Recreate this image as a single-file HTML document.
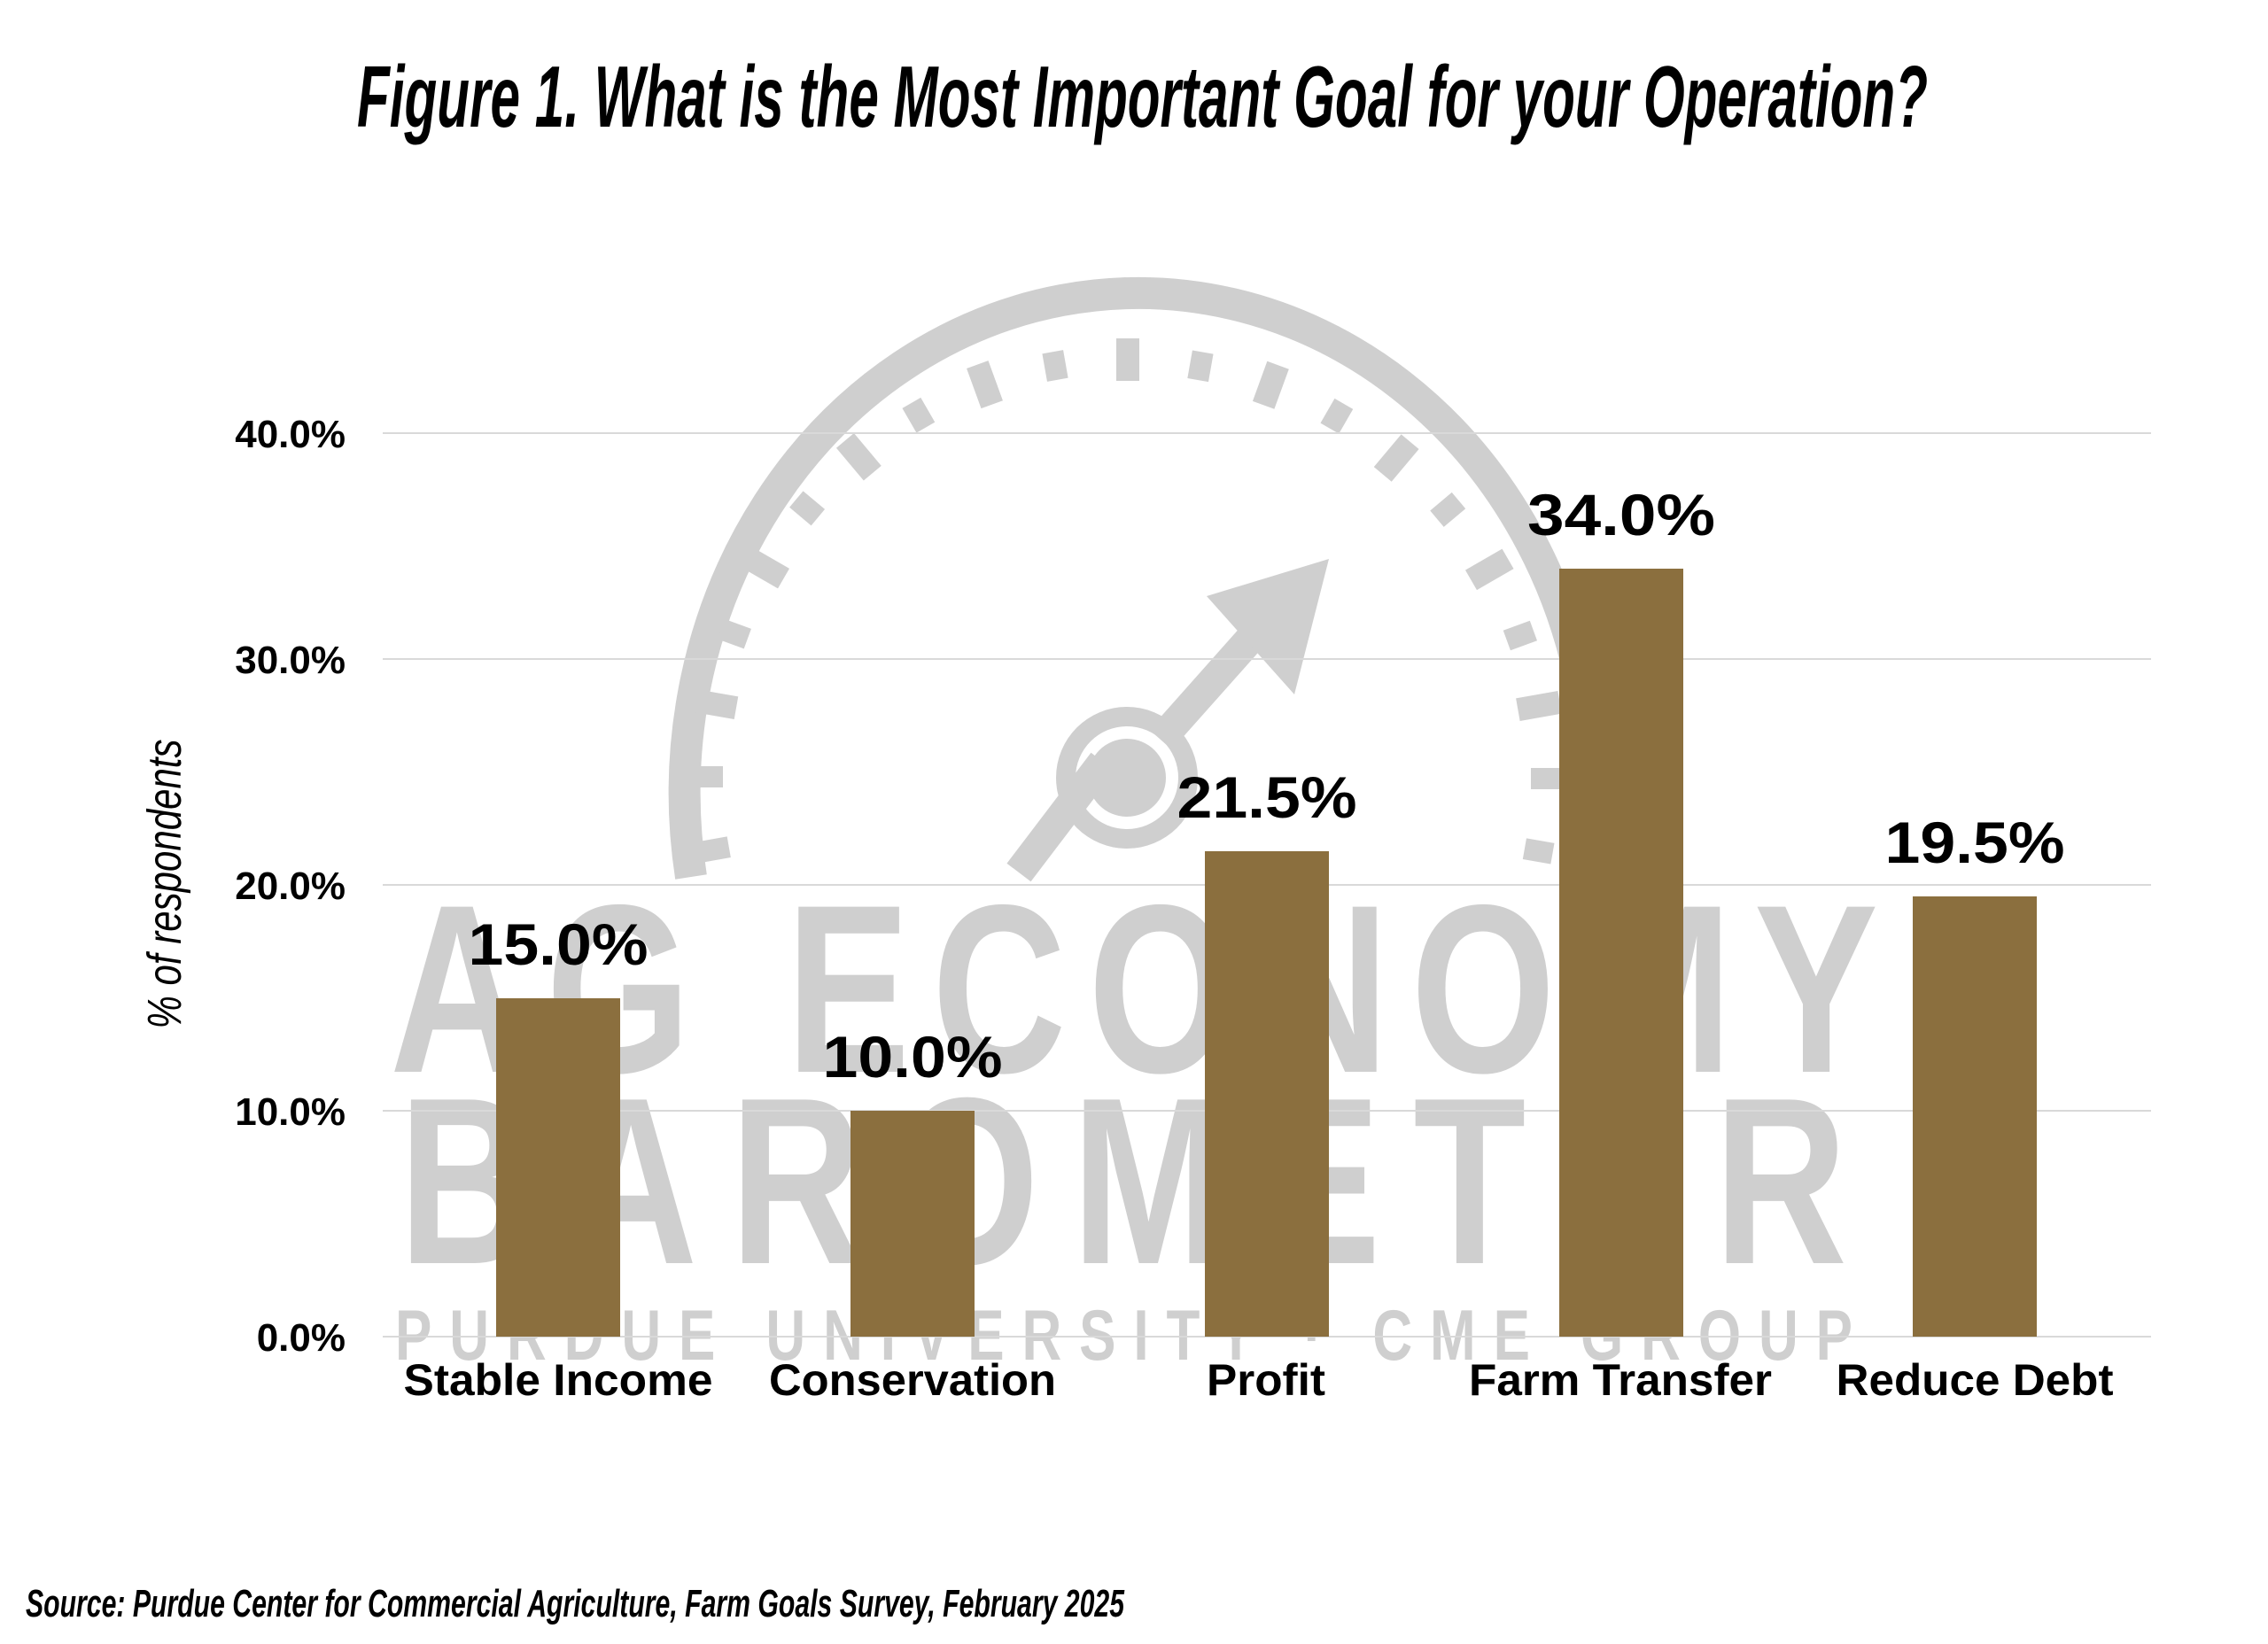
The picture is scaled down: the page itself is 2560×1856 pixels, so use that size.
<!DOCTYPE html>
<html><head><meta charset="utf-8"><style>
html,body{margin:0;padding:0;background:#fff;}
svg{display:block;}
</style></head><body>
<svg width="2560" height="1856" viewBox="0 0 2560 1856" xmlns="http://www.w3.org/2000/svg">
<rect width="2560" height="1856" fill="#fff"/>
<!-- watermark -->
<g fill="#cfcfcf" stroke="none">
  <path d="M 780 990 A 495 545 0 1 1 1790 800" fill="none" stroke="#cfcfcf" stroke-width="36"/>
  <circle cx="1272" cy="878" r="80"/>
  <circle cx="1272" cy="878" r="58" fill="#fff"/>
  <circle cx="1272" cy="878" r="44"/>
  <line x1="1150" y1="985" x2="1245" y2="860" stroke="#cfcfcf" stroke-width="34"/>
  <line x1="1310" y1="835" x2="1430" y2="700" stroke="#cfcfcf" stroke-width="34"/>
  <polygon points="1500,631 1362,673 1461,784"/>
  <g transform="translate(0 1210) scale(1 1.29)">
    <text x="440" y="0" font-family="Liberation Sans, sans-serif" font-weight="bold" font-size="210" textLength="1680" lengthAdjust="spacing">AG ECONOMY</text>
  </g>
  <g transform="translate(0 1426) scale(1 1.29)">
    <text x="450" y="0" font-family="Liberation Sans, sans-serif" font-weight="bold" font-size="208" textLength="1635" lengthAdjust="spacing">BAROMETER</text>
  </g>
  <g transform="translate(0 1535) scale(1 1.3)">
    <text x="446" y="0" font-family="Liberation Sans Narrow, Liberation Sans, sans-serif" font-weight="bold" font-size="62" textLength="1645" lengthAdjust="spacing">PURDUE UNIVERSITY · CME GROUP</text>
  </g>
</g>
<g fill="#cfcfcf">
<rect x="1260" y="382" width="26" height="48"/>
<rect x="1261" y="390" width="24" height="32" transform="rotate(-10 1272 878)"/>
<rect x="1260" y="382" width="26" height="48" transform="rotate(-20 1272 878)"/>
<rect x="1261" y="390" width="24" height="32" transform="rotate(-30 1272 878)"/>
<rect x="1260" y="382" width="26" height="48" transform="rotate(-40 1272 878)"/>
<rect x="1261" y="390" width="24" height="32" transform="rotate(-50 1272 878)"/>
<rect x="1260" y="382" width="26" height="48" transform="rotate(-60 1272 878)"/>
<rect x="1261" y="390" width="24" height="32" transform="rotate(-70 1272 878)"/>
<rect x="1260" y="382" width="26" height="48" transform="rotate(-80 1272 878)"/>
<rect x="1261" y="390" width="24" height="32" transform="rotate(-90 1272 878)"/>
<rect x="1261" y="390" width="24" height="32" transform="rotate(-100 1272 878)"/>
<rect x="1261" y="390" width="24" height="32" transform="rotate(10 1272 878)"/>
<rect x="1260" y="382" width="26" height="48" transform="rotate(20 1272 878)"/>
<rect x="1261" y="390" width="24" height="32" transform="rotate(30 1272 878)"/>
<rect x="1260" y="382" width="26" height="48" transform="rotate(40 1272 878)"/>
<rect x="1261" y="390" width="24" height="32" transform="rotate(50 1272 878)"/>
<rect x="1260" y="382" width="26" height="48" transform="rotate(60 1272 878)"/>
<rect x="1261" y="390" width="24" height="32" transform="rotate(70 1272 878)"/>
<rect x="1260" y="382" width="26" height="48" transform="rotate(80 1272 878)"/>
<rect x="1261" y="390" width="24" height="32" transform="rotate(90 1272 878)"/>
<rect x="1261" y="390" width="24" height="32" transform="rotate(100 1272 878)"/>
</g>
<!-- gridlines -->
<g stroke="#d9d9d9" stroke-width="2">
<line x1="432" y1="489" x2="2428" y2="489"/>
<line x1="432" y1="744" x2="2428" y2="744"/>
<line x1="432" y1="999" x2="2428" y2="999"/>
<line x1="432" y1="1254" x2="2428" y2="1254"/>
<line x1="432" y1="1509" x2="2428" y2="1509"/>
</g>
<!-- bars -->
<g fill="#8b6f3e">
<rect x="560" y="1127" width="140" height="382"/>
<rect x="960" y="1254" width="140" height="255"/>
<rect x="1360" y="961" width="140" height="548"/>
<rect x="1760" y="642" width="140" height="867"/>
<rect x="2159" y="1012" width="140" height="497"/>
</g>
<g font-family="Liberation Sans, sans-serif" font-weight="bold" fill="#000">
<g font-size="44" text-anchor="end">
<text x="390" y="505">40.0%</text>
<text x="390" y="760">30.0%</text>
<text x="390" y="1015">20.0%</text>
<text x="390" y="1270">10.0%</text>
<text x="390" y="1525">0.0%</text>
</g>
<g font-size="66" text-anchor="middle">
<text x="630" y="1089" textLength="203" lengthAdjust="spacingAndGlyphs">15.0%</text>
<text x="1030" y="1216" textLength="203" lengthAdjust="spacingAndGlyphs">10.0%</text>
<text x="1430" y="923" textLength="203" lengthAdjust="spacingAndGlyphs">21.5%</text>
<text x="1830" y="604" textLength="212" lengthAdjust="spacingAndGlyphs">34.0%</text>
<text x="2229" y="974" textLength="203" lengthAdjust="spacingAndGlyphs">19.5%</text>
</g>
<g font-size="50" text-anchor="middle">
<text x="630" y="1575" textLength="349" lengthAdjust="spacingAndGlyphs">Stable Income</text>
<text x="1030" y="1575" textLength="324" lengthAdjust="spacingAndGlyphs">Conservation</text>
<text x="1429" y="1575" textLength="134" lengthAdjust="spacingAndGlyphs">Profit</text>
<text x="1829" y="1575" textLength="342" lengthAdjust="spacingAndGlyphs">Farm Transfer</text>
<text x="2229" y="1575" textLength="313" lengthAdjust="spacingAndGlyphs">Reduce Debt</text>
</g>
</g>
<text transform="translate(204 998) rotate(-90)" text-anchor="middle" font-family="Liberation Sans Narrow, Liberation Sans, sans-serif" font-style="italic" font-size="54" textLength="327" lengthAdjust="spacingAndGlyphs">% of respondents</text>
<text x="403" y="143" font-family="Liberation Sans Narrow, Liberation Sans, sans-serif" font-weight="bold" font-style="italic" font-size="98" textLength="1773" lengthAdjust="spacingAndGlyphs">Figure 1. What is the Most Important Goal for your Operation?</text>
<text x="29" y="1825" font-family="Liberation Sans Narrow, Liberation Sans, sans-serif" font-weight="bold" font-style="italic" font-size="44" textLength="1240" lengthAdjust="spacingAndGlyphs">Source: Purdue Center for Commercial Agriculture, Farm Goals Survey, February 2025</text>
</svg>
</body></html>
